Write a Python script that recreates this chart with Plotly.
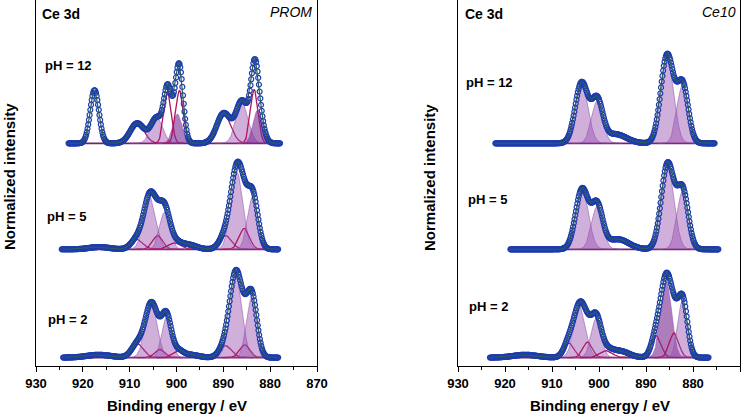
import numpy as np
import plotly.graph_objects as go

# ---------------- data ----------------
energy_ticks = [930, 920, 910, 900, 890, 880, 870]
ph_labels = ["pH = 12", "pH = 5", "pH = 2"]

# Peak components: centre (eV), height (normalised), FWHM (eV), kind
# kind: "light" filled, "dark" filled darker, "line" magenta outline, "none" only in measured data
prom12_center = [917.5, 908.4, 904.2, 901.9, 899.8, 899.35, 889.9, 886.0, 883.4, 882.6]
prom12_height = [0.585, 0.22, 0.28, 0.56, 0.32, 0.58, 0.33, 0.46, 0.59, 0.37]
prom12_fwhm = [2.2, 3.5, 3.0, 1.85, 2.3, 1.9, 3.5, 3.0, 1.9, 2.4]
prom12_kind = ["none", "line", "light", "line", "dark", "line", "line", "light", "line", "dark"]
prom12_range = [923.1, 877.9]

prom5_center = [916.5, 908.4, 905.7, 904.0, 902.5, 900.3, 897.5, 889.5, 887.1, 885.5, 883.7]
prom5_height = [0.025, 0.11, 0.57, 0.15, 0.41, 0.07, 0.05, 0.15, 0.85, 0.23, 0.58]
prom5_fwhm = [5.0, 3.0, 3.0, 2.5, 2.6, 3.0, 4.0, 3.0, 3.0, 2.5, 2.6]
prom5_kind = ["none", "line", "light", "line", "light", "line", "none", "line", "light", "line", "light"]
prom5_range = [924.5, 878.3]

prom2_center = [916.6, 908.3, 905.4, 903.5, 902.1, 899.6, 897.0, 889.5, 887.3, 885.4, 883.9]
prom2_height = [0.03, 0.15, 0.58, 0.09, 0.44, 0.07, 0.03, 0.13, 0.90, 0.14, 0.66]
prom2_fwhm = [6.0, 3.0, 3.0, 2.5, 2.4, 2.5, 4.0, 3.0, 3.0, 2.5, 2.6]
prom2_kind = ["none", "line", "light", "line", "light", "line", "none", "line", "light", "line", "light"]
prom2_range = [924.2, 878.3]

ce12_center = [903.7, 900.4, 896.5, 885.5, 882.2]
ce12_height = [0.665, 0.46, 0.10, 0.97, 0.64]
ce12_fwhm = [3.2, 2.8, 5.5, 3.2, 2.8]
ce12_kind = ["light", "light", "none", "light", "light"]
ce12_range = [922.1, 875.4]

ce5_center = [903.6, 900.4, 896.0, 885.4, 882.2]
ce5_height = [0.66, 0.47, 0.11, 0.94, 0.64]
ce5_fwhm = [3.2, 2.8, 5.5, 3.2, 2.8]
ce5_kind = ["light", "light", "none", "light", "light"]
ce5_range = [918.9, 874.6]

ce2_center = [915.7, 906.4, 904.1, 902.4, 900.6, 898.4, 895.5, 887.8, 885.7, 884.0, 882.2]
ce2_height = [0.03, 0.16, 0.56, 0.17, 0.43, 0.075, 0.07, 0.24, 0.84, 0.27, 0.63]
ce2_fwhm = [6.0, 2.5, 2.9, 2.3, 2.5, 3.0, 4.5, 2.4, 2.7, 2.3, 2.4]
ce2_kind = ["none", "line", "light", "line", "light", "line", "none", "line", "dark", "line", "light"]
ce2_range = [923.2, 876.7]

# ---------------- styling ----------------
FONT = "Arial, Liberation Sans, sans-serif"
stack_offsets = [2.355, 1.19, 0.0]
W, H = 750, 414
LIGHT_FILL = "rgba(150, 80, 175, 0.45)"
LIGHT_LINE = "rgba(150, 80, 170, 0.7)"
DARK_FILL = "rgba(125, 45, 145, 0.62)"
MAGENTA = "#b3125f"
BASE_COL = "#7b2067"
MARKER_COL = "#1f3cae"
ENV_COL = "#265e5a"


def gauss(x, c, h, w):
    return h * np.exp(-4 * np.log(2) * (x - c) ** 2 / w ** 2)


panels = [
    [(prom12_center, prom12_height, prom12_fwhm, prom12_kind, prom12_range),
     (prom5_center, prom5_height, prom5_fwhm, prom5_kind, prom5_range),
     (prom2_center, prom2_height, prom2_fwhm, prom2_kind, prom2_range)],
    [(ce12_center, ce12_height, ce12_fwhm, ce12_kind, ce12_range),
     (ce5_center, ce5_height, ce5_fwhm, ce5_kind, ce5_range),
     (ce2_center, ce2_height, ce2_fwhm, ce2_kind, ce2_range)],
]

fig = go.Figure()

for p, spectra in enumerate(panels):
    xa = "x" if p == 0 else "x2"
    ya = "y" if p == 0 else "y2"
    for s, (cen, hei, fw, kind, rng) in enumerate(spectra):
        off = stack_offsets[s]
        xs = np.arange(rng[1], rng[0] + 1e-9, 0.05)
        # baseline
        fig.add_trace(go.Scatter(x=[rng[0], rng[1]], y=[off, off], mode="lines",
                                 line=dict(color=BASE_COL, width=1.8),
                                 xaxis=xa, yaxis=ya, showlegend=False, hoverinfo="skip"))
        # components
        for c, h, w, k in zip(cen, hei, fw, kind):
            if k == "none":
                continue
            cx = np.arange(c - 1.9 * w, c + 1.9 * w + 1e-9, 0.05)
            cy = off + gauss(cx, c, h, w)
            if k in ("light", "dark"):
                fx = np.concatenate([[cx[0]], cx, [cx[-1]]])
                fy = np.concatenate([[off], cy, [off]])
                fig.add_trace(go.Scatter(
                    x=fx, y=fy, mode="lines", fill="toself",
                    fillcolor=LIGHT_FILL if k == "light" else DARK_FILL,
                    line=dict(color=LIGHT_LINE, width=0.8),
                    xaxis=xa, yaxis=ya, showlegend=False, hoverinfo="skip"))
            else:
                fig.add_trace(go.Scatter(
                    x=cx, y=cy, mode="lines", line=dict(color=MAGENTA, width=1.3),
                    xaxis=xa, yaxis=ya, showlegend=False, hoverinfo="skip"))
        # measured data / envelope
        env = off + sum(gauss(xs, c, h, w) for c, h, w in zip(cen, hei, fw))
        fig.add_trace(go.Scatter(
            x=xs[::3], y=env[::3], mode="markers",
            marker=dict(symbol="circle-open", size=5, color=MARKER_COL, line=dict(width=1.2)),
            xaxis=xa, yaxis=ya, showlegend=False, hoverinfo="skip"))
        fig.add_trace(go.Scatter(
            x=xs, y=env, mode="lines", line=dict(color=ENV_COL, width=1.2),
            xaxis=xa, yaxis=ya, showlegend=False, hoverinfo="skip"))

xdom = [[36 / W, 317 / W], [458 / W, 740 / W]]
ydom = [1 - 366 / H, 1.0]
yrange = [-0.093, 3.93]

common_x = dict(range=[930, 870], tickvals=energy_ticks, ticks="outside", ticklen=5, tickwidth=1,
                tickcolor="black", showline=True, linecolor="black", linewidth=1, mirror=True,
                showgrid=False, zeroline=False,
                tickfont=dict(family=FONT, size=13, color="black", weight="bold"),
                minor=dict(dtick=5, ticklen=3, ticks="outside", tickcolor="black", tickwidth=1))
common_y = dict(range=yrange, domain=ydom, showline=True, linecolor="black", linewidth=1,
                mirror=True, showgrid=False, zeroline=False, showticklabels=False, ticks="")

fig.update_layout(
    width=W, height=H, margin=dict(l=0, r=0, t=0, b=0, autoexpand=False),
    paper_bgcolor="white", plot_bgcolor="white",
    xaxis=dict(domain=xdom[0], anchor="y", **common_x),
    yaxis=dict(anchor="x", **common_y),
    xaxis2=dict(domain=xdom[1], anchor="y2", **common_x),
    yaxis2=dict(anchor="x2", linecolor="black", **{k: v for k, v in common_y.items() if k != "linecolor"}),
    font=dict(family=FONT, color="black"),
)


def ann(text, px, py, size, xanchor="center", bold=True, italic=False, angle=0):
    t = text
    if bold:
        t = "<b>" + t + "</b>"
    if italic:
        t = "<i>" + t + "</i>"
    fig.add_annotation(text=t, x=px / W, y=1 - py / H, xref="paper", yref="paper",
                       xanchor=xanchor, yanchor="middle", showarrow=False, textangle=angle,
                       font=dict(family=FONT, size=size, color="black"))


# panel labels
ann("Ce 3d", 40, 14, 14, xanchor="left")
ann("PROM", 314, 12, 14, xanchor="right", bold=False, italic=True)
ann("Ce 3d", 463, 14, 14, xanchor="left")
ann("Ce10", 738, 12, 14, xanchor="right", bold=False, italic=True)

left_ph_pos = [(43, 65), (45, 216), (46, 319)]
right_ph_pos = [(464, 82), (466, 200), (467, 306)]
for lab, (x, y) in zip(ph_labels, left_ph_pos):
    ann(lab, x, y, 13, xanchor="left")
for lab, (x, y) in zip(ph_labels, right_ph_pos):
    ann(lab, x, y, 13, xanchor="left")

# axis titles
ann("Binding energy / eV", 177, 405, 15)
ann("Binding energy / eV", 600, 405, 15)
ann("Normalized intensity", 9, 177, 15, angle=-90)
ann("Normalized intensity", 429, 177, 15, angle=-90)

fig.write_html("out.html", config={"displayModeBar": False},
               post_script="document.body.style.margin='0px';")
